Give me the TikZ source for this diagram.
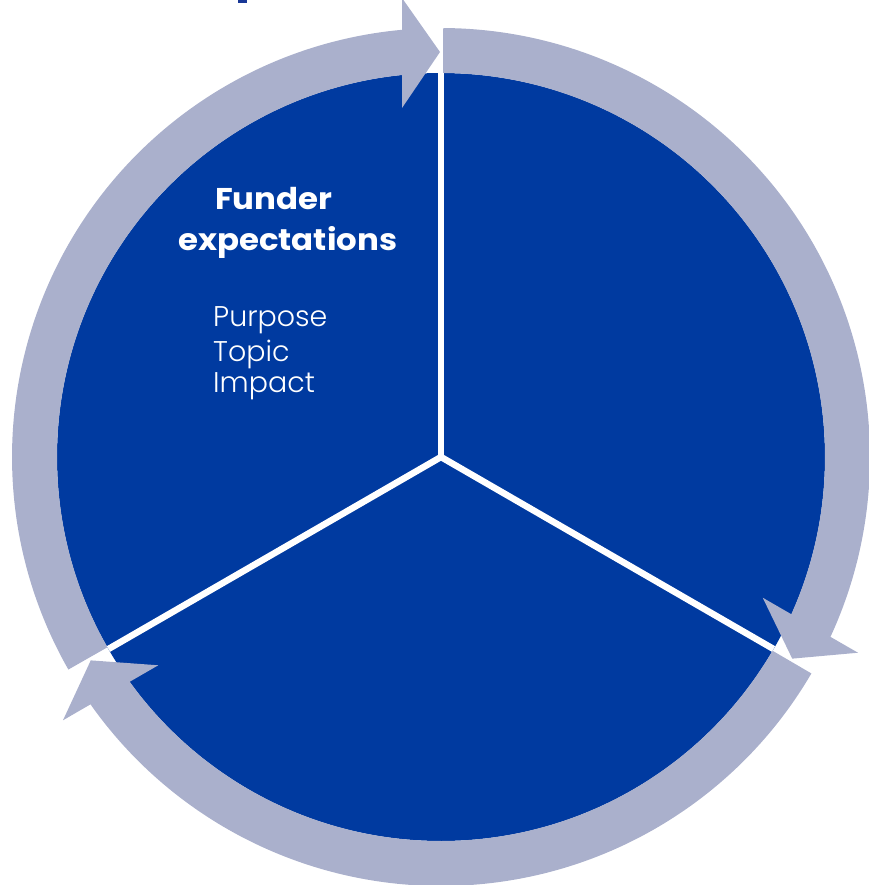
\documentclass[tikz,border=0pt]{standalone}
\usepackage{fontspec}
\setmainfont{Poppins}[BoldFeatures={FakeStretch=1.08}]
\newfontfamily\lightfont{Poppins Light}
\usetikzlibrary{calc}
\definecolor{pieblue}{RGB}{0,58,160}
\definecolor{ringgray}{RGB}{170,176,204}
\definecolor{navyfrag}{RGB}{25,55,150}
\tikzset{
  divider/.style={draw=white, line width=6.5bp},
  ringarrow/.style={fill=ringgray},
  headtext/.style={anchor=base west, inner sep=0pt, text=white, font=\bfseries\fontsize{30bp}{36bp}\selectfont},
  itemtext/.style={anchor=base west, inner sep=0pt, text=white, font=\lightfont\fontsize{28.5bp}{33bp}\selectfont}
}
\begin{document}
\begin{tikzpicture}[x=1bp,y=1bp]
\useasboundingbox (0,0) rectangle (869,-885);
\coordinate (C) at (441,-457);
% blue disc
\fill[pieblue] (C) circle[radius=384];
% three circular arrows
\foreach \r in {0,-120,-240}{
  \begin{scope}[shift={(C)}, rotate=\r]
    \fill[ringarrow] (209.7:429) arc[start angle=209.7, end angle=95.21, radius=429]
      -- (-39,459) -- (-1,405) -- (-39,349)
      -- (95.83:384) arc[start angle=95.83, end angle=209.7, radius=384] -- cycle;
  \end{scope}
}
% dividers
\coordinate (d1) at ($(C)+(90:384)$);
\coordinate (d2) at ($(C)+(-30:384)$);
\coordinate (d3) at ($(C)+(210:384)$);
\draw[divider] (C) -- (d1);
\draw[divider] (C) -- (d2);
\draw[divider] (C) -- (d3);
\fill[white] (C) circle[radius=3.25];
% clipped text fragment at the top
\fill[navyfrag] (238,0) rectangle (247,-2.5);
% texts
\node[headtext] (t1) at (215,-209.3) {Funder};
\node[headtext] (t2) at (178,-250.7) {expectations};
\node[itemtext] (i1) at (213,-326) {Purpose};
\node[itemtext] (i2) at (213,-361) {Topic};
\node[itemtext] (i3) at (213,-392.5) {Impact};
\end{tikzpicture}
\end{document}
